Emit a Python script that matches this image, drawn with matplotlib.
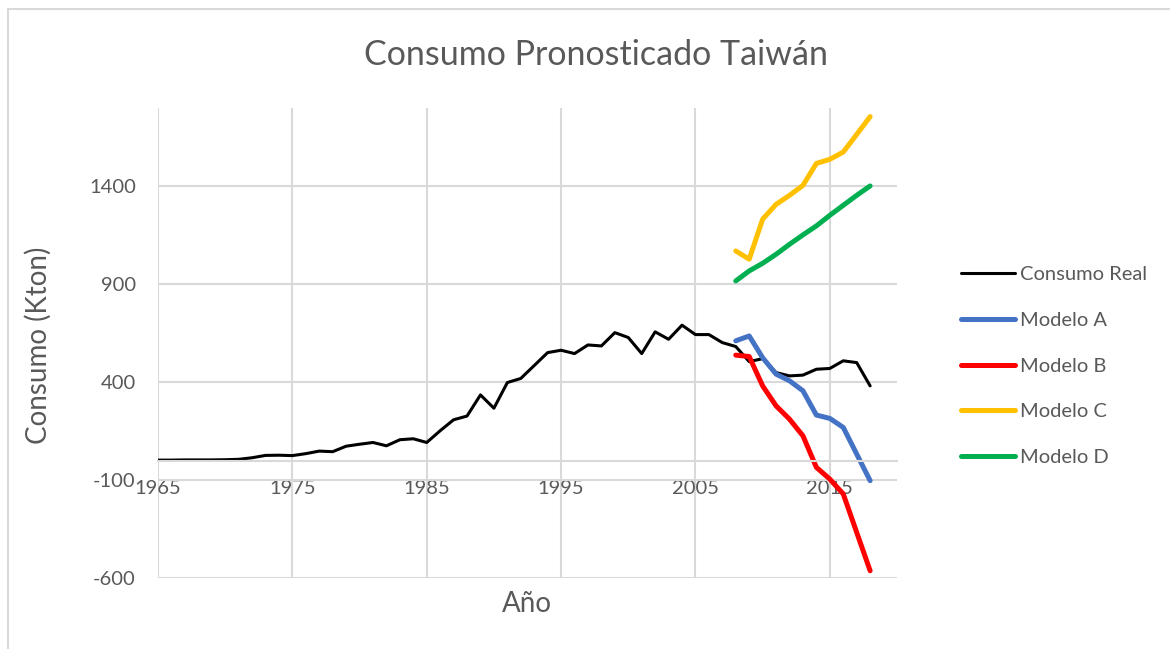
import matplotlib.pyplot as plt
from matplotlib.patches import Rectangle

# Datos
anios = list(range(1965, 2019))
consumo_real = [2, 2, 3, 3, 3, 4, 6, 14, 26, 27,
                25, 35, 48, 45, 73, 83, 92, 75, 106, 111,
                92, 152, 208, 227, 335, 267, 398, 419, 485, 551,
                563, 546, 590, 585, 653, 628, 546, 657, 619, 691,
                643, 643, 602, 582, 505, 520, 449, 432, 436, 466,
                470, 509, 500, 381]

anios_modelo = list(range(2008, 2019))
modelo_a = [611, 636, 525, 441, 407, 356, 232, 215, 169, 33, -103]
modelo_b = [538, 531, 381, 279, 211, 126, -35, -95, -171, -367, -563]
modelo_c = [1070, 1028, 1232, 1308, 1354, 1405, 1517, 1538, 1575, 1665, 1756]
modelo_d = [917, 968, 1007, 1053, 1104, 1152, 1198, 1252, 1303, 1354, 1402]

xticks = [1965, 1975, 1985, 1995, 2005, 2015]
yticks = [-600, -100, 400, 900, 1400]

plt.rcParams['font.family'] = ['Lato', 'DejaVu Sans']
plt.rcParams['axes.unicode_minus'] = False
gris_texto = '#595959'
gris_linea = '#D9D9D9'

fig = plt.figure(figsize=(11.7, 6.49), dpi=100)
ax = fig.add_axes([158 / 1170, 1 - 578 / 649, (897 - 158) / 1170, (578 - 108) / 649])

# marco exterior del gráfico
fig.patches.append(Rectangle((8 / 1170, -0.1), 1.2, 1 - 9 / 649 + 0.1, transform=fig.transFigure,
                             fill=False, edgecolor=gris_linea, linewidth=1.5))

estilo = dict(solid_capstyle='round', solid_joinstyle='round')
ax.plot(anios, consumo_real, color='black', lw=2.2, label='Consumo Real', **estilo)
ax.plot(anios_modelo, modelo_a, color='#4472C4', lw=3.6, label='Modelo A', **estilo)
ax.plot(anios_modelo, modelo_b, color='#FF0000', lw=3.6, label='Modelo B', **estilo)
ax.plot(anios_modelo, modelo_c, color='#FFC000', lw=3.6, label='Modelo C', **estilo)
ax.plot(anios_modelo, modelo_d, color='#00B050', lw=3.6, label='Modelo D', **estilo)

ax.set_xlim(1965, 2020)
ax.set_ylim(-600, 1800)
ax.set_xticks(xticks)
ax.set_yticks(yticks)
ax.grid(True, color=gris_linea, lw=1.5)
ax.set_axisbelow(True)

for lado in ['top', 'right', 'left']:
    ax.spines[lado].set_visible(False)
ax.spines['bottom'].set_position(('data', 0))
ax.spines['bottom'].set_color(gris_linea)
ax.spines['bottom'].set_linewidth(1.5)

ax.tick_params(axis='both', length=0, labelsize=14.5, labelcolor=gris_texto)
ax.tick_params(axis='x', pad=14)
ax.tick_params(axis='y', pad=16)

fig.text(596 / 1170, 1 - 55 / 649, 'Consumo Pronosticado Taiwán', ha='center', va='center',
         fontsize=24.5, color=gris_texto)
fig.text(527 / 1170, 1 - 604 / 649, 'Año', ha='center', va='center', fontsize=20, color=gris_texto)
fig.text(38 / 1170, 1 - 345 / 649, 'Consumo (Kton)', ha='center', va='center', rotation=90,
         fontsize=20, color=gris_texto)

ax.legend(loc='center left', bbox_to_anchor=(961 / 1170, 1 - 366 / 649), bbox_transform=fig.transFigure,
          frameon=False, fontsize=14.5, labelcolor=gris_texto, handlelength=2.7, handletextpad=0.25,
          labelspacing=1.42, borderpad=0, borderaxespad=0)

fig.savefig('out.png', dpi=100)
